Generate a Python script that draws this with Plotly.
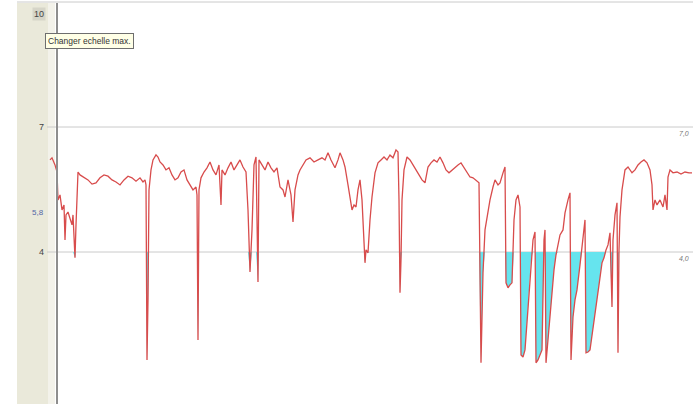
import plotly.graph_objects as go

# ---- data (time index, glucose mmol/L) ----
t = [2, 4, 7, 9, 10, 12, 14, 16, 17, 18, 20, 22, 24, 25, 27, 28, 30,
     32, 36, 40, 44, 48, 52, 56, 60, 64, 68, 72, 76, 80, 84, 88, 92, 95, 97,
     98, 99, 100, 101, 103, 105, 108, 110, 112, 115, 118, 121, 124, 127, 130,
     133, 136, 139, 142, 145, 148, 149, 150, 151, 153, 156, 159, 162, 165,
     168, 171, 173, 174, 177, 180, 183, 186, 189, 192, 195, 198, 200, 202,
     204, 206, 208, 210, 211, 214, 217, 220, 223, 226, 229, 232, 235, 237,
     240, 243, 245, 247, 250, 252, 255, 258, 262, 266, 270, 274, 277, 280,
     283, 287, 290, 292, 295, 297, 300, 302, 304, 306, 308, 310, 312, 314,
     316, 317, 318, 320, 322, 324, 327, 330, 333, 336, 339, 342, 345, 348,
     350, 351, 352, 353, 354, 356, 359, 362, 365, 368, 371, 374, 377, 380,
     383, 386, 389, 392, 395, 398, 401, 404, 407, 410, 413, 416, 419, 422,
     425, 428, 431, 433, 434, 435, 437, 440, 442, 445, 447, 450, 452, 455,
     457, 458, 460, 462, 464, 466, 468, 470, 472, 473, 475, 477, 479, 481,
     483, 485, 487, 488, 490, 492, 494, 496, 497, 498, 500, 502, 504, 506,
     508, 510, 512, 515, 517, 520, 522, 523, 525, 527, 529, 532, 534, 536,
     537, 538, 540, 542, 545, 548, 551, 554, 556, 558, 560, 562, 564, 565,
     567, 569, 570, 571, 572, 574, 577, 580, 584, 587, 590, 593, 596, 599,
     602, 604, 605, 607, 609, 612, 615, 617, 619, 620, 622, 625, 629, 633,
     637, 641, 644]
glucose = [6.21, 6.26, 6.09, 5.92, 5.25, 5.37, 5.01, 5.13, 4.29, 4.89, 4.96,
           4.77, 4.65, 4.89, 3.86, 4.65, 5.92,
           5.85, 5.78, 5.73, 5.63, 5.66, 5.78, 5.85, 5.82, 5.73, 5.68, 5.61,
           5.73, 5.82, 5.78, 5.70, 5.78, 5.68, 5.73,
           5.61, 1.41, 2.85, 5.49, 5.97, 6.21, 6.33, 6.28, 6.16, 6.09, 5.97,
           6.02, 5.85, 5.73, 5.78, 5.92, 5.97, 5.73, 5.61, 5.49, 5.56, 5.37,
           1.89, 5.49, 5.78, 5.92, 6.02, 6.16, 5.97, 5.85, 6.09, 5.13, 5.97,
           5.85, 6.02, 6.16, 5.97, 6.09, 6.21, 6.04, 5.92, 5.01, 3.52, 4.53,
           6.09, 6.28, 3.28, 6.21, 6.09, 5.97, 6.16, 6.02, 5.92, 6.02, 5.56,
           5.49, 5.32, 5.73, 5.37, 4.72, 5.49, 5.85, 5.97, 6.09, 6.21, 6.26,
           6.16, 6.21, 6.26, 6.21, 6.38, 6.21, 6.02, 6.21, 6.38, 6.21, 6.04,
           5.61, 5.32, 5.01, 5.13, 5.08, 5.49, 5.73, 5.25, 4.29, 3.74, 4.05,
           3.98, 4.77, 5.32, 5.90, 6.14, 6.21, 6.28, 6.21, 6.33, 6.26, 6.45,
           6.40, 5.25, 3.02, 3.81, 5.25, 5.97, 6.28, 6.21, 6.09, 5.97, 5.85,
           5.73, 5.66, 6.04, 6.14, 6.21, 6.16, 6.28, 6.14, 5.97, 5.90, 5.97,
           6.04, 6.09, 6.14, 6.02, 5.92, 5.80, 5.78, 5.73, 5.66, 1.34, 2.85,
           3.50, 4.53, 5.01, 5.25, 5.56, 5.73, 5.61, 5.66, 5.90, 6.04, 3.26,
           3.14, 3.21, 3.26, 4.77, 5.25, 5.37, 5.08, 1.53, 1.48, 1.65, 2.37,
           3.09, 3.81, 4.29, 4.48, 1.34, 1.41, 1.53, 1.65, 4.29, 4.53, 1.34,
           1.89, 2.61, 3.09, 3.57, 3.93, 4.17, 4.41, 4.53, 4.94, 5.25, 5.42,
           1.41, 2.44, 2.85, 3.09, 3.69, 4.17, 4.53, 4.77, 1.58, 1.60, 1.65,
           2.13, 2.73, 3.21, 3.74, 3.86, 4.05, 4.17, 4.46, 2.68, 4.29, 4.89,
           5.18, 1.58, 4.05, 4.84, 5.49, 5.97, 6.04, 5.90, 5.97, 6.09, 6.16,
           6.21, 6.14, 5.97, 5.61, 5.01, 5.25, 5.13, 5.25, 5.08, 5.37, 5.01,
           5.80, 5.97, 5.90, 5.92, 5.87, 5.92, 5.90, 5.90]

low_threshold = 4.0
grid_levels = [10, 7, 4]
left_tick_text = ["10", "7", "4"]
right_tick_text = ["7,0", "4,0"]
right_tick_levels = [7, 4]
mean_label = "5,8"
mean_label_level = 4.96
tooltip_text = "Changer echelle max."

W, H = 693, 404
x_range = [0, 645]
y_range = [0.352, 10.048]
plot_left = 48 / W

fig = go.Figure()

# baseline for the hypoglycaemia fill
fig.add_trace(go.Scatter(x=t, y=[low_threshold] * len(t), mode="lines",
                         line=dict(width=0), hoverinfo="skip", showlegend=False))
fig.add_trace(go.Scatter(x=t, y=[min(v, low_threshold) for v in glucose],
                         mode="lines", line=dict(width=0), fill="tonexty",
                         fillcolor="#66E4EE", hoverinfo="skip", showlegend=False))
fig.add_trace(go.Scatter(x=t, y=glucose, mode="lines",
                         line=dict(color="#D84C4C", width=1.3),
                         showlegend=False))

shapes = []
# left beige panel
shapes.append(dict(type="rect", xref="paper", yref="paper", x0=17 / W, x1=48 / W,
                   y0=0, y1=1 - 3 / H, fillcolor="#EAE9DA", line=dict(width=0),
                   layer="below"))
shapes.append(dict(type="rect", xref="paper", yref="paper", x0=48 / W, x1=55 / W,
                   y0=0, y1=1 - 3 / H, fillcolor="#F3F2EA", line=dict(width=0),
                   layer="below"))
# grid lines
for lv in grid_levels:
    x0 = 17 / W if lv == max(grid_levels) else 47 / W
    shapes.append(dict(type="line", xref="paper", yref="y", x0=x0, x1=1,
                       y0=lv, y1=lv, line=dict(color="#CACACA", width=1),
                       layer="below"))
# cursor line
shapes.append(dict(type="line", xref="paper", yref="paper", x0=57 / W, x1=57 / W,
                   y0=0, y1=1 - 3 / H, line=dict(color="#8E8E8E", width=2),
                   layer="above"))

annotations = []
for lv, txt in zip(grid_levels, left_tick_text):
    top = lv == max(grid_levels)
    annotations.append(dict(
        x=46 / W, xref="paper", y=lv, yref="y", text=txt, showarrow=False,
        xanchor="right", yanchor="top" if top else "middle",
        yshift=-5 if top else 0,
        bgcolor="#D6D5C8" if top else None,
        font=dict(family="Liberation Sans", size=9, color="#444")))
annotations.append(dict(
    x=46 / W, xref="paper", y=mean_label_level, yref="y", text=mean_label,
    showarrow=False, xanchor="right", yanchor="middle",
    font=dict(family="Liberation Sans", size=8, color="#5366A6")))
for lv, txt in zip(right_tick_levels, right_tick_text):
    annotations.append(dict(
        x=677 / W, xref="paper", y=lv, yref="y", text="<i>" + txt + "</i>",
        showarrow=False, xanchor="left", yanchor="top", yshift=-1,
        font=dict(family="Liberation Sans", size=7, color="#777")))
# tooltip
annotations.append(dict(
    x=45 / W, xref="paper", y=1 - 33 / H, yref="paper", text=tooltip_text,
    showarrow=False, xanchor="left", yanchor="top",
    bgcolor="#FFFFE6", bordercolor="#6E6E6E", borderwidth=1, borderpad=2,
    font=dict(family="Liberation Sans", size=8.5, color="#333")))

fig.update_layout(
    width=W, height=H, margin=dict(l=0, r=0, t=0, b=0),
    paper_bgcolor="white", plot_bgcolor="rgba(0,0,0,0)",
    xaxis=dict(domain=[plot_left, 1], range=x_range, visible=False,
               fixedrange=True),
    yaxis=dict(domain=[0, 1], range=y_range, visible=False, fixedrange=True),
    shapes=shapes, annotations=annotations, showlegend=False,
)

fig.write_html("out.html", config={"displayModeBar": False},
               post_script="document.body.style.margin='0';"
                           "document.body.style.padding='0';")
